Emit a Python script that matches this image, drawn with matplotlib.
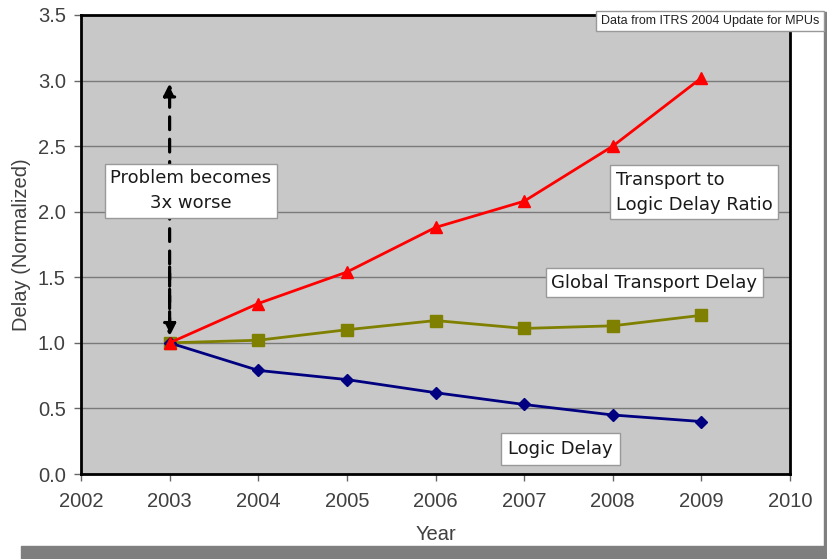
import matplotlib
matplotlib.use("Agg")
import matplotlib.pyplot as plt
from matplotlib.patches import Rectangle

years = [2003, 2004, 2005, 2006, 2007, 2008, 2009]
logic_delay = [1.00, 0.79, 0.72, 0.62, 0.53, 0.45, 0.40]
global_delay = [1.00, 1.02, 1.10, 1.17, 1.11, 1.13, 1.21]
ratio = [1.00, 1.30, 1.54, 1.88, 2.08, 2.50, 3.02]

x_ticks = [2002, 2003, 2004, 2005, 2006, 2007, 2008, 2009, 2010]
y_ticks = [0.0, 0.5, 1.0, 1.5, 2.0, 2.5, 3.0, 3.5]

plt.rcParams['font.family'] = ['Liberation Sans', 'DejaVu Sans']

fig = plt.figure(figsize=(8.28, 5.59), dpi=100)
fig.patch.set_facecolor('white')

# drop shadow behind the white card
fig.patches.append(Rectangle((21 / 828, 0), 1 - 21 / 828, 13 / 559,
                             transform=fig.transFigure, color='#7f7f7f', zorder=0))
fig.patches.append(Rectangle((824 / 828, 0), 4 / 828, 1 - 12 / 559,
                             transform=fig.transFigure, color='#7f7f7f', zorder=0))

ax = fig.add_axes([81 / 828, 1 - 474 / 559, (790 - 81) / 828, (474 - 15) / 559])
ax.set_facecolor('#c8c8c8')

ax.set_xlim(2002, 2010)
ax.set_ylim(0, 3.5)
ax.set_xticks(x_ticks)
ax.set_yticks(y_ticks)
ax.set_yticklabels([f"{v:.1f}" for v in y_ticks])
ax.grid(axis='y', color='#7a7a7a', linewidth=1.0, zorder=1)
ax.set_axisbelow(True)
for s in ax.spines.values():
    s.set_linewidth(2.0)
    s.set_color('black')
ax.tick_params(axis='both', labelsize=14.5, colors='#666666', length=5, width=1,
               labelcolor='#404040')
ax.tick_params(axis='x', pad=8)
ax.tick_params(axis='y', pad=6)
ax.set_xlabel('Year', fontsize=14.5, color='#404040', labelpad=10)
ax.set_ylabel('Delay (Normalized)', fontsize=14.5, color='#404040', labelpad=5)

ax.plot(years, logic_delay, color='#000080', linewidth=2.0, marker='D',
        markersize=6, zorder=4, clip_on=False)
ax.plot(years, global_delay, color='#808000', linewidth=2.0, marker='s',
        markersize=8, zorder=3, clip_on=False)
ax.plot(years, ratio, color='#ff0000', linewidth=2.0, marker='^',
        markersize=8, zorder=5, clip_on=False)

# dashed double arrow showing the growth of the ratio
ax.annotate('', xy=(2003, ratio[-1] - 0.02), xytext=(2003, 1.07),
            arrowprops=dict(arrowstyle='-|>', linestyle=(0, (4, 3)), lw=2.3,
                            color='black', mutation_scale=18), zorder=6)
ax.annotate('', xy=(2003, 1.03), xytext=(2003, 1.6),
            arrowprops=dict(arrowstyle='-|>', linestyle=(0, (4, 3)), lw=2.3,
                            color='black', mutation_scale=18), zorder=6)

box = dict(boxstyle='square,pad=0.3', facecolor='white', edgecolor='#999999', linewidth=1)
note_font = ['DejaVu Sans']
note_kw = dict(fontsize=13, family=note_font, color='#1a1a1a', zorder=7)
ax.text(2003.24, 2.16, 'Problem becomes\n3x worse', ha='center', va='center',
        linespacing=1.5, bbox=box, **note_kw)
ax.text(2008.92, 2.15, 'Transport to\nLogic Delay Ratio', ha='center', va='center',
        linespacing=1.5, multialignment='left', bbox=box, **note_kw)
ax.text(2008.47, 1.46, 'Global Transport Delay', ha='center', va='center',
        bbox=box, **note_kw)
ax.text(2007.41, 0.19, 'Logic Delay', ha='center', va='center',
        bbox=dict(boxstyle='square,pad=0.4', facecolor='white', edgecolor='#999999',
                  linewidth=1), **note_kw)

fig.text(710 / 828, 1 - 21 / 559, 'Data from ITRS 2004 Update for MPUs',
         ha='center', va='center', fontsize=9, color='#222222',
         bbox=dict(boxstyle='square,pad=0.35', facecolor='white', edgecolor='#999999',
                   linewidth=1), zorder=10)

fig.savefig('out.png', dpi=100, facecolor='white')
